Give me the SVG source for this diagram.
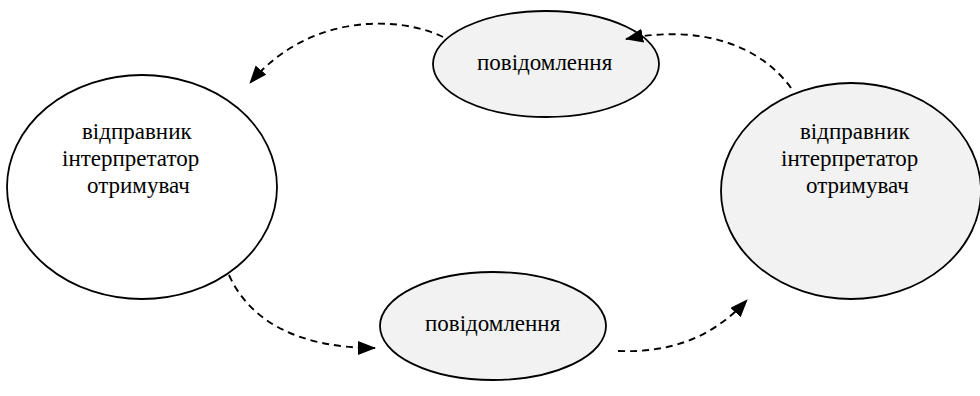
<svg xmlns="http://www.w3.org/2000/svg" width="980" height="396" viewBox="0 0 980 396">
<style>
.node{stroke:#000;stroke-width:1.8}
.w{fill:#fff}
.g{fill:#f2f2f2}
.c{fill:none;stroke:#000;stroke-width:1.9;stroke-dasharray:7 5}
text{font-family:'Liberation Serif','Times New Roman',serif;font-size:23px;fill:#000}
</style>
<defs>
<marker id="ah" markerUnits="userSpaceOnUse" markerWidth="20" markerHeight="16" refX="17" refY="7" orient="auto">
<path d="M0,0 L18,7 L0,14 z" fill="#000"/>
</marker>
</defs>
<rect width="980" height="396" fill="#fff"/>
<g id="left">
<ellipse class="node w" cx="142" cy="187" rx="135" ry="112"/>
<text x="82" y="139">відправник</text>
<text x="62" y="166">інтерпретатор</text>
<text x="87" y="193">отримувач</text>
</g>
<g id="right">
<ellipse class="node g" cx="851" cy="191" rx="130" ry="108"/>
<text x="800" y="139">відправник</text>
<text x="781" y="166">інтерпретатор</text>
<text x="806" y="193">отримувач</text>
</g>
<g id="top">
<ellipse class="node g" cx="546" cy="64" rx="113" ry="53"/>
<text x="477" y="70">повідомлення</text>
</g>
<g id="bottom">
<ellipse class="node g" cx="493" cy="326" rx="113" ry="54"/>
<text x="425" y="331">повідомлення</text>
</g>
<g id="connectors">
<path class="c" d="M443,37 C400,16 310,12 250,83" marker-end="url(#ah)"/>
<path class="c" d="M791,88 C760,45 700,24 626,39" marker-end="url(#ah)"/>
<path class="c" d="M229,275 C250,322 300,348 375,348" marker-end="url(#ah)"/>
<path class="c" d="M618,351 C670,353 712,338 747,300" marker-end="url(#ah)"/>
</g>
</svg>
